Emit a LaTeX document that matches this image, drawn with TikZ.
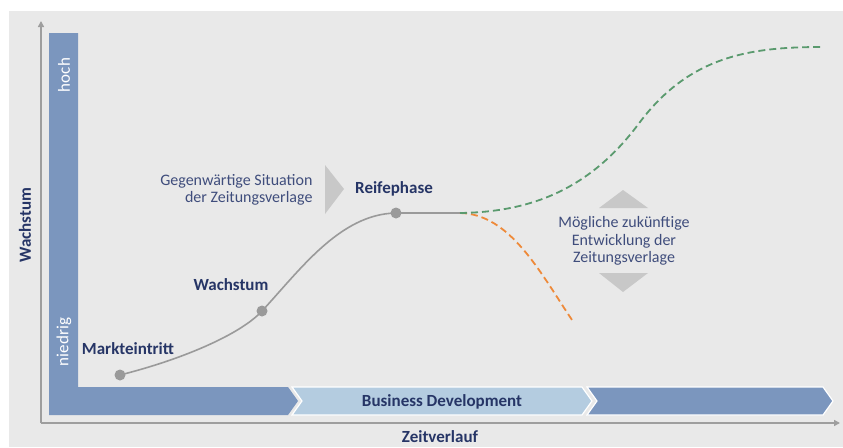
\documentclass[tikz,border=0pt]{standalone}
\usepackage{fontspec}
\setmainfont{Carlito}
\usepackage{xcolor}
\usetikzlibrary{arrows.meta}

\definecolor{bg}{HTML}{E9E9E9}
\definecolor{bardark}{HTML}{7B96BE}
\definecolor{barlight}{HTML}{B4CCE0}
\definecolor{navy}{HTML}{263566}
\definecolor{textblue}{HTML}{3F4D7C}
\definecolor{axisgrey}{HTML}{9E9E9E}
\definecolor{curvegrey}{HTML}{9A9A9A}
\definecolor{chevgrey}{HTML}{C8C8C8}
\definecolor{dashgreen}{HTML}{5A9A6E}
\definecolor{dashorange}{HTML}{EE8A3A}

\begin{document}
\begin{tikzpicture}[x=1pt,y=-1pt,
  dot/.style={circle,fill=curvegrey,inner sep=0pt,minimum size=11pt},
  lbl/.style={font=\bfseries\fontsize{17}{19}\selectfont,text=navy},
  txt/.style={font=\fontsize{16}{17.5}\selectfont,text=textblue},
  barlbl/.style={font=\fontsize{17}{19}\selectfont,text=white,rotate=90},
  axis/.style={axisgrey,line width=1.5pt,-{Triangle[length=6pt,width=6pt]}},
  future/.style={line width=1.8pt,dash pattern=on 7pt off 4pt}]
\useasboundingbox (0,0) rectangle (843,447);
\fill[bg] (9,11) rectangle (843,447);

% bars
\fill[bardark] (49,33)--(78,33)--(78,387)--(288,387)--(298,401)--(288,415)--(49,415)--cycle;
\filldraw[barlight,draw=white,line width=1.2pt] (292,387)--(582,387)--(592,401)--(582,415)--(292,415)--(302,401)--cycle;
\filldraw[bardark,draw=white,line width=1.2pt] (587,387)--(823,387)--(833,401)--(823,415)--(587,415)--(597,401)--cycle;
\node[barlbl] (hoch) at (64,75) {hoch};
\node[barlbl] (niedrig) at (64,342) {niedrig};
\node[lbl] (bd) at (442,402) {Business Development};

% axes
\coordinate (o) at (41,423);
\coordinate (ytop) at (41,21);
\coordinate (xend) at (840,423);
\draw[axis] (o)--(ytop);
\draw[axis] (o)--(xend);
\node[lbl,rotate=90] (ylbl) at (25,225) {Wachstum};
\node[lbl] (xlbl) at (440,437) {Zeitverlauf};

% curve
\node[dot] (markt) at (120,375) {};
\node[dot] (wachs) at (262,311) {};
\node[dot] (reife) at (396,213) {};
\coordinate (fork) at (460,213);
\draw[curvegrey,line width=1.6pt] (markt.center) .. controls (180,360) and (240,335) .. (wachs.center)
  .. controls (300,270) and (340,214) .. (reife.center) -- (fork);
\draw[future,dashorange] (fork) .. controls (510,214) and (540,272) .. (572,320);
\draw[future,dashgreen] (fork) .. controls (530,212) and (590,190) .. (640,122)
  .. controls (690,56) and (750,47) .. (822,47);

\node[lbl] (lmarkt) at (128,349) {Markteintritt};
\node[lbl] (lwachs) at (231,285) {Wachstum};
\node[lbl] (lreife) at (394,189) {Reifephase};

% present and future
\node[txt,align=right,anchor=east] (heute) at (316,190) {Gegenwärtige Situation\\der Zeitungsverlage};
\fill[chevgrey] (325,165)--(344,189)--(325,214)--cycle;
\node[txt,align=center] (zukunft) at (624,241) {Mögliche zukünftige\\Entwicklung der\\Zeitungsverlage};
\fill[chevgrey] (599,208)--(623,190)--(648,208)--cycle;
\fill[chevgrey] (599,273)--(623,292)--(648,273)--cycle;
\end{tikzpicture}
\end{document}
